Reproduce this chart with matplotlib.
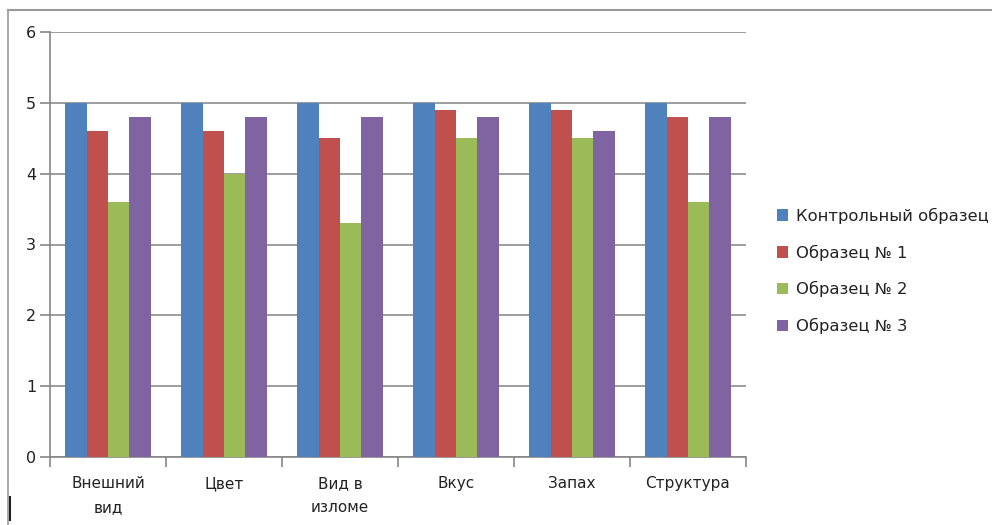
import numpy as np
import matplotlib.pyplot as plt
from matplotlib.lines import Line2D

categories = ["Внешний\nвид", "Цвет", "Вид в\nизломе", "Вкус", "Запах", "Структура"]
series_names = ["Контрольный образец", "Образец № 1", "Образец № 2", "Образец № 3"]
control = [5, 5, 5, 5, 5, 5]
sample1 = [4.6, 4.6, 4.5, 4.9, 4.9, 4.8]
sample2 = [3.6, 4.0, 3.3, 4.5, 4.5, 3.6]
sample3 = [4.8, 4.8, 4.8, 4.8, 4.6, 4.8]
colors = ["#4F81BD", "#C0504D", "#9BBB59", "#8064A2"]

plt.rcParams["font.family"] = ["DejaVu Sans"]

fig = plt.figure(figsize=(9.92, 5.25), dpi=100)
ax = fig.add_axes([50 / 992, 1 - 457 / 525, 696 / 992, 425 / 525])

x = np.arange(len(categories))
width = 0.185
for i, (vals, name, c) in enumerate(zip([control, sample1, sample2, sample3], series_names, colors)):
    ax.bar(x + (i - 1.5) * width, vals, width, color=c, label=name, zorder=3)

ax.set_xlim(-0.5, len(categories) - 0.5)
ax.set_ylim(0, 6)
ax.set_yticks(range(7))
ax.yaxis.grid(True, color="#8c8c8c", linewidth=1.2, zorder=0)

# category boundaries as minor ticks
ax.set_xticks(x)
ax.set_xticklabels(categories, fontsize=11, color="#222222", linespacing=1.75)
ax.set_xticks(np.arange(-0.5, len(categories)), minor=True)
ax.tick_params(axis="x", which="major", length=0, pad=14)
ax.tick_params(axis="x", which="minor", length=7, color="#868686", width=1.2)
ax.tick_params(axis="y", length=7, color="#868686", width=1.2, labelsize=11.5,
               labelcolor="#222222", pad=3)

for side in ["top", "right"]:
    ax.spines[side].set_visible(False)
for side in ["left", "bottom"]:
    ax.spines[side].set_color("#868686")
    ax.spines[side].set_linewidth(1.2)

leg = fig.legend(loc="upper left", bbox_to_anchor=(770 / 992, 1 - 201 / 525),
                 frameon=False, fontsize=11.8, handlelength=0.7, handleheight=0.7,
                 handletextpad=0.5, labelspacing=1.26, borderaxespad=0)
for t in leg.get_texts():
    t.set_color("#222222")

# outer chart frame and cursor mark
fig.add_artist(Line2D([8 / 992, 1], [1 - 10 / 525] * 2, color="#9a9a9a", linewidth=1.5))
fig.add_artist(Line2D([8 / 992] * 2, [0, 1 - 10 / 525], color="#9a9a9a", linewidth=1.2))
fig.add_artist(Line2D([9.5 / 992] * 2, [1 - 520 / 525, 1 - 497 / 525], color="#222222", linewidth=1.5))

fig.savefig("out.png", dpi=100)
